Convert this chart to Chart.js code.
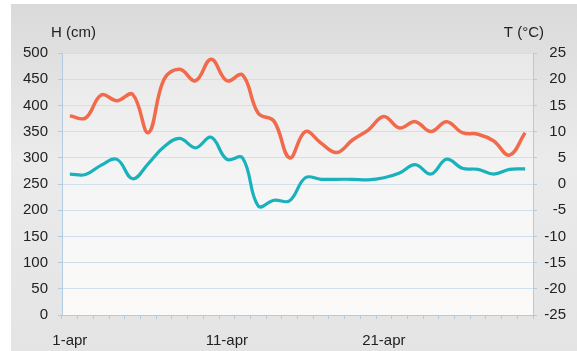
<!DOCTYPE html>
<html>
<head>
<meta charset="utf-8">
<script src="https://cdn.jsdelivr.net/npm/chart.js@4/dist/chart.umd.min.js"></script>
<style>
  html, body { margin: 0; padding: 0; background: #ffffff; }
  #wrap { width: 577px; height: 351px; position: relative; }
</style>
</head>
<body>
<div id="wrap"><canvas id="c" width="577" height="351"></canvas></div>
<script>
// Days of April
const days = ['1-apr','2-apr','3-apr','4-apr','5-apr','6-apr','7-apr','8-apr','9-apr','10-apr',
              '11-apr','12-apr','13-apr','14-apr','15-apr','16-apr','17-apr','18-apr','19-apr','20-apr',
              '21-apr','22-apr','23-apr','24-apr','25-apr','26-apr','27-apr','28-apr','29-apr','30-apr'];

// Snow depth H (cm), left axis
const heightCm = [380, 376, 420, 409, 421, 348, 450, 469, 447, 488,
                  447, 458, 385, 370, 300, 350, 328, 310, 334, 353,
                  379, 357, 369, 350, 369, 348, 345, 332, 305, 348];

// Air temperature T (°C), right axis
const tempC = [1.9, 1.8, 3.6, 4.7, 1.0, 3.9, 7.1, 8.7, 6.9, 8.9,
               4.7, 5.0, -4.2, -3.1, -3.2, 1.2, 0.9, 0.9, 0.9, 0.8,
               1.2, 2.1, 3.7, 1.9, 4.75, 3.0, 2.8, 1.9, 2.8, 2.9];

// Axis ranges and tick steps
const hAxis = { min: 0, max: 500, step: 50 };
const tAxis = { min: -25, max: 25, step: 5 };
const labelEvery = 10;

const textColor = '#222222';
const gridBlue = '#cfe0ec';
const axisBlue = '#b3cbe0';
const tickFont = { family: '"Liberation Sans", Arial, sans-serif', size: 15 };

// Grey panel behind the chart plus a soft fill in the plot area
const panelPlugin = {
  id: 'panel',
  beforeDraw(chart) {
    const { ctx, chartArea: a } = chart;
    ctx.save();
    const g = ctx.createLinearGradient(0, 4, 0, 351);
    g.addColorStop(0, '#dadada');
    g.addColorStop(0.45, '#ebebeb');
    g.addColorStop(1, '#e4e4e4');
    ctx.fillStyle = g;
    ctx.fillRect(11, 4, 566, 347);
    const p = ctx.createLinearGradient(0, a.top, 0, a.bottom);
    p.addColorStop(0, '#e8e8e8');
    p.addColorStop(0.55, '#f6f6f6');
    p.addColorStop(1, '#fbfaf9');
    ctx.fillStyle = p;
    ctx.fillRect(a.left, a.top, a.right - a.left, a.bottom - a.top);
    ctx.restore();
  },
  afterDraw(chart) {
    const { ctx } = chart;
    ctx.save();
    ctx.fillStyle = textColor;
    ctx.font = '15px "Liberation Sans", Arial, sans-serif';
    ctx.textBaseline = 'middle';
    ctx.textAlign = 'left';
    ctx.fillText('H (cm)', 51, 33);
    ctx.textAlign = 'right';
    ctx.fillText('T (°C)', 544, 33);
    ctx.restore();
  }
};

new Chart(document.getElementById('c'), {
  type: 'line',
  data: {
    labels: days,
    datasets: [
      {
        label: 'H (cm)',
        data: heightCm,
        yAxisID: 'yH',
        borderColor: '#f06a4b',
        borderWidth: 3.5,
        pointRadius: 0,
        tension: 0.4,
        fill: false
      },
      {
        label: 'T (°C)',
        data: tempC,
        yAxisID: 'yT',
        borderColor: '#19b2bc',
        borderWidth: 3.2,
        pointRadius: 0,
        tension: 0.4,
        fill: false
      }
    ]
  },
  options: {
    responsive: false,
    animation: false,
    devicePixelRatio: 1,
    layout: { padding: { top: 53, left: 0, right: 11, bottom: 0 } },
    plugins: { legend: { display: false }, tooltip: { enabled: false } },
    scales: {
      x: {
        type: 'category',
        offset: true,
        afterFit(s) { s.height = 36; },
        grid: { offset: true, drawOnChartArea: false, drawTicks: true, tickLength: 4, color: axisBlue },
        border: { color: axisBlue },
        ticks: {
          autoSkip: false, maxRotation: 0, color: textColor, font: tickFont, padding: 13,
          callback: (v, i) => (i % labelEvery === 0 ? days[i] : '')
        }
      },
      yH: {
        position: 'left',
        min: hAxis.min, max: hAxis.max,
        afterFit(s) { s.width = 62; },
        grid: { color: gridBlue, tickLength: 4, tickColor: axisBlue },
        border: { color: axisBlue },
        ticks: { stepSize: hAxis.step, color: textColor, font: tickFont, padding: 10 }
      },
      yT: {
        position: 'right',
        min: tAxis.min, max: tAxis.max,
        afterFit(s) { s.width = 33; },
        grid: { drawOnChartArea: false, tickLength: 4, color: axisBlue },
        border: { color: axisBlue },
        ticks: { stepSize: tAxis.step, color: textColor, font: tickFont, padding: 6, crossAlign: 'far' }
      }
    }
  },
  plugins: [panelPlugin]
});
</script>
</body>
</html>
